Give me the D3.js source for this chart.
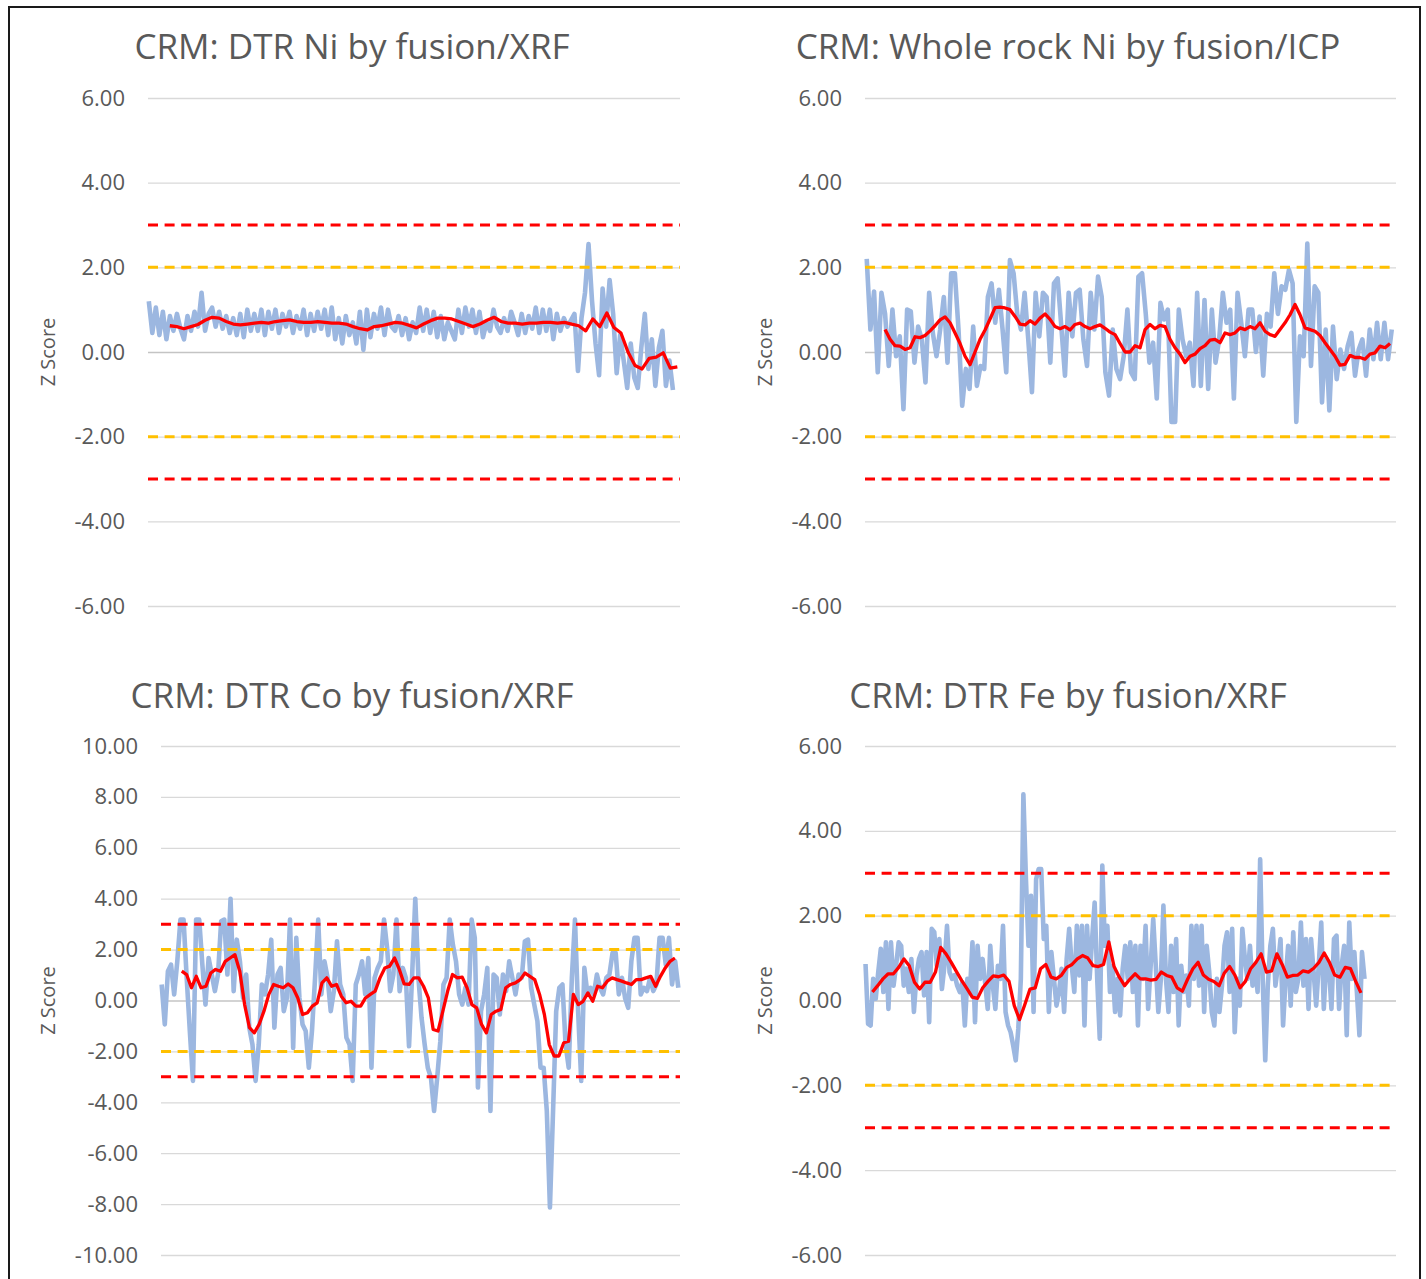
<!DOCTYPE html>
<html>
<head>
<meta charset="utf-8">
<script src="https://cdn.jsdelivr.net/npm/d3@7"></script>
<style>
  body { margin: 0; background: #fff; }
  svg { display: block; }
  text { font-family: "Open Sans", sans-serif; fill: #595959; }
</style>
</head>
<body>
<div id="chart"></div>
<script>
// ---- data ----
const titles = [
    "CRM: DTR Ni by fusion/XRF",
    "CRM: Whole rock Ni by fusion/ICP",
    "CRM: DTR Co by fusion/XRF",
    "CRM: DTR Fe by fusion/XRF"
];
const ticksSix = [-6, -4, -2, 0, 2, 4, 6];
const ticksTen = [-10, -8, -6, -4, -2, 0, 2, 4, 6, 8, 10];
const limitValues = [3, 2, -2, -3];
const limitColors = ["#ff0000", "#ffc000", "#ffc000", "#ff0000"];
const sampleCount = 400;

// DTR Ni by fusion/XRF
const niXrfZ = [
    1.2, 0.45, 1.05, 0.4, 0.95, 0.3, 0.85, 0.5, 0.9, 0.55,
    0.3, 0.85, 0.5, 0.95, 0.6, 1.4, 0.5, 0.9, 1.05, 0.6,
    0.95, 0.55, 0.85, 0.45, 0.8, 0.4, 0.9, 0.35, 1.0, 0.5,
    0.9, 0.5, 1.0, 0.4, 0.95, 0.55, 1.0, 0.45, 0.9, 0.6,
    0.95, 0.45, 0.85, 0.55, 1.0, 0.4, 0.9, 0.5, 0.95, 0.55,
    1.0, 0.4, 1.05, 0.3, 0.8, 0.2, 0.85, 0.4, 0.7, 0.2,
    0.95, 0.05, 1.0, 0.35, 0.9, 0.55, 1.05, 0.4, 1.0, 0.6,
    0.5, 0.85, 0.4, 0.8, 0.3, 0.7, 0.45, 1.05, 0.5, 1.0,
    0.45, 0.95, 0.35, 0.85, 0.3, 0.7, 0.5, 0.3, 1.0, 0.45,
    1.05, 0.6, 1.0, 0.45, 0.95, 0.35, 0.7, 0.5, 1.0, 0.6,
    0.45, 0.8, 0.5, 0.95, 0.7, 0.4, 0.9, 0.45, 0.85, 0.55,
    1.05, 0.45, 1.0, 0.5, 1.0, 0.3, 0.9, 0.5, 0.8, 0.6,
    0.75, 0.9, -0.45, 0.8, 1.4, 2.55, 1.2, 0.2, -0.55, 1.5,
    0.6, 1.7, 0.9, -0.5, 0.4, -0.2, -0.85, 0.2, -0.6, -0.85,
    0.1, 0.9, -0.4, 0.3, -0.8, 0.1, 0.5, -0.8, -0.2, -0.9
];
const niXrfAvg = [
    0.62, 0.6, 0.55, 0.6, 0.65, 0.75, 0.82, 0.8, 0.72, 0.66,
    0.64, 0.66, 0.68, 0.7, 0.68, 0.72, 0.74, 0.76, 0.72, 0.7,
    0.7, 0.72, 0.7, 0.68, 0.68, 0.66, 0.6, 0.55, 0.52, 0.6,
    0.62, 0.66, 0.7, 0.68, 0.63, 0.57, 0.66, 0.74, 0.8, 0.8,
    0.78, 0.72, 0.66, 0.6, 0.66, 0.75, 0.82, 0.72, 0.68, 0.68,
    0.66, 0.68, 0.68, 0.7, 0.7, 0.68, 0.7, 0.66, 0.62, 0.5,
    0.78, 0.6, 0.92, 0.58, 0.45, 0.0, -0.32, -0.4, -0.15, -0.12,
    -0.02, -0.38, -0.35
];
const niXrfZRange = [0.6, 394.7];
const niXrfAvgRange = [16.4, 398];

// Whole rock Ni by fusion/ICP
const niIcpZ = [
    2.2, 0.53, 1.43, -0.48, 1.4, 0.9, -0.33, 1.0, -0.1, 0.37,
    -1.35, 1.0, 0.96, -0.25, 0.6, 0.3, -0.72, 1.4, 0.45, -0.1,
    0.53, 1.3, -0.25, 1.86, 1.86, 0.53, -1.27, -0.4, -0.87, 0.6,
    -0.8, -0.33, -0.4, 1.3, 1.62, 0.69, 1.47, 0.53, -0.48, 2.17,
    1.86, 0.9, 0.53, 1.4, 0.3, -0.95, 1.4, 0.37, 1.4, 1.3,
    -0.25, 1.62, 1.74, 0.6, -0.56, 1.4, 0.37, 1.4, 1.47, 0.3,
    -0.33, 1.4, 0.53, 1.78, 1.3, -0.48, -1.03, 0.53, -0.4, -0.64,
    -0.1,
    1.0, -0.48, -0.64, 1.78, 1.86, 0.9, -0.25, 0.22, -1.1, 1.16,
    0.77, 1.0, -1.65, -1.65, 1.0, 0.3, -0.1, 0.22, -0.8, 1.4,
    -0.8, 1.23, -0.87, 1.0, -0.25, 0.3, 1.4, 0.69, 1.0, -1.1,
    1.4, 0.69, -0.1, 1.0, 1.0, 0.0, 0.84, -0.56, 0.9, 0.6,
    1.86, 0.9, 1.55, 1.47, 1.94, 1.62, -1.65, 0.37, -0.1, 2.56,
    -0.33, 1.55, 1.4, -1.19, 0.53, -1.38, 0.6, -0.64, 0.06, -0.4,
    0.14, 0.45, -0.56, 0.06, 0.3, -0.56, 0.53, -0.17, 0.69, -0.17,
    0.69, -0.17, 0.53
];
const niIcpAvg = [
    0.53, 0.3, 0.15, 0.14, 0.06, 0.1, 0.36, 0.34, 0.39, 0.5,
    0.62, 0.76, 0.83, 0.69, 0.45, 0.2, -0.1, -0.3, 0.0, 0.3,
    0.52, 0.78, 1.05, 1.06, 1.04, 1.0, 0.84, 0.66, 0.64, 0.74,
    0.66, 0.8, 0.9, 0.77, 0.6, 0.55, 0.6, 0.52, 0.65, 0.68,
    0.6, 0.55, 0.6, 0.64, 0.56, 0.47, 0.41, 0.2,
    0.0, 0.0, 0.15, 0.1, 0.53, 0.65, 0.55, 0.63, 0.6, 0.3,
    0.1, -0.05, -0.25, -0.1, -0.05, 0.08, 0.15, 0.28, 0.3, 0.22,
    0.45, 0.41, 0.45, 0.57, 0.53, 0.6, 0.55, 0.69, 0.49, 0.41,
    0.37, 0.53, 0.69, 0.88, 1.12, 0.88, 0.57, 0.53, 0.49, 0.39,
    0.22, 0.06, -0.1, -0.31, -0.29, -0.08, -0.13, -0.13, -0.17, -0.05,
    -0.02, 0.14, 0.1, 0.2
];
const niIcpZRange = [1.3, 396.8];
const niIcpAvgRange = [15.1, 395.5];

// DTR Co by fusion/XRF
const coXrfZ = [
    0.63, -0.94, 1.15, 1.41, 0.24, 1.54, 3.18, 3.18, 0.89, -1.2,
    -3.16, 3.18, 3.18, 1.41, -0.16, 1.67, 1.02, 0.37, 1.02, 3.11,
    3.18, 1.02, 4.0, 0.37, 2.39, 1.54, 0.1, 1.02, -1.07, -1.73,
    -3.16, -1.73, 0.63, 0.24, 1.02, 2.39, -1.07, 1.02, 1.28, -0.42,
    0.1, 3.18, -1.86, 2.46, 0.1, -0.94, -1.2, -2.64, -1.2, 0.89,
    3.18, 0.24, 1.54, 0.89, -0.42, 0.37, 2.33, 0.63, 0.24, -1.46,
    -1.73, -3.16, 0.63, 1.02, 1.54, 0.24, 1.67, -2.64, 0.89, 1.28,
    1.54, 3.18, 2.07, 0.37, 1.02, 3.18, 0.37, 1.28, 0.89, -1.8,
    1.02, 4.0,
    0.89, -0.68, -1.73, -2.64, -3.03, -4.34, -3.03, -1.6, 0.63, 0.89,
    3.18, 2.2, 1.54, 0.24, -0.16, 0.5, -0.16, 3.18, 2.46, -3.42,
    -0.42, 0.24, 1.28, -4.34, 1.02, 0.89, -0.55, 1.02, 0.37, 1.54,
    0.89, 0.24, 1.02, 0.89, 2.33, 2.39, 0.5, -0.16, -0.81, -2.64,
    -2.64, -4.34, -8.13, -4.34, -0.42, 0.5, 0.63, -1.73, -2.64, 0.89,
    3.18, -0.42, -3.16, 1.28, 0.24, 0.5, 0.24, 1.02, 0.5, 0.24,
    0.89, 1.02, 1.87, 1.87, 0.24, 0.89, 0.1, -0.29, 1.54, 2.46,
    2.46, 0.24, 0.5, 0.37, 0.89, 0.37, 0.63, 2.46, 2.46, 1.41,
    2.46, 0.63, 1.54, 0.5
];
const coXrfAvg = [
    1.15, 1.02, 0.5, 0.95, 0.5, 0.56, 1.08, 1.22, 1.15, 1.54,
    1.67, 1.8, 1.15, -0.16, -1.07, -1.27, -0.94, -0.42, 0.24, 0.63,
    0.56, 0.5, 0.65, 0.5, 0.1, -0.55, -0.48, -0.22, -0.09, 0.69,
    0.89, 0.56, 0.63, 0.17, -0.09, -0.03, -0.22, -0.22, 0.1, 0.24,
    0.37, 0.89, 1.28, 1.35, 1.67, 1.22, 0.65,
    0.63, 0.89, 0.89, 0.56, 0.1, -1.14, -1.2, -0.42, 0.37, 1.02,
    0.89, 0.92, 0.5, -0.16, -0.29, -0.94, -1.27, -0.55, -0.42, -0.35,
    0.5, 0.63, 0.69, 0.82, 1.08, 0.95, 0.82, 0.24, -0.55, -1.73,
    -2.18, -2.18, -1.66, -1.6, 0.24, -0.16, -0.03, 0.3, -0.03, 0.56,
    0.5, 0.76, 0.89, 0.82, 0.76, 0.69, 0.63, 0.82, 0.82, 0.89,
    0.95, 0.56, 0.95, 1.28, 1.54, 1.67
];
const coXrfZRange = [0.5, 398.7];
const coXrfAvgRange = [16, 396.1];

// DTR Fe by fusion/XRF
const feXrfZ = [
    0.86, -0.55, -0.59, 0.51, 0.04, 0.67, 1.22, 0.2, 1.37, -0.2,
    1.37, 0.35, 0.82, 1.37, 1.29, 0.35, 0.75, 0.2, 0.98, -0.27,
    0.59, 0.98, 1.14, 0.12, 1.14, -0.51, 1.69, 1.61, 0.82, 1.45,
    0.27, 0.82, 1.76, 0.67, 0.51, 0.6, 0.35, 0.2, 0.43, -0.59, 0.51,
    0.2, 1.37, -0.51, 1.29, 0.51, 0.98, 0.4, -0.2, 1.29, 0.35, -0.2,
    0.82, 0.51, 1.76, -0.27, -0.59, -0.75, -1.06, -1.41, -0.67, 0.51,
    4.86, 2.86, 1.29, 2.47, -0.27, 2.86, 3.1, 3.1, 1.45, 1.76,
    -0.27, 1.14, 0.51, -0.12, 0.2, 0.75, -0.27, 0.98, 1.69, 0.82,
    0.2, 1.76, 0.59, 1.76, -0.59, 1.76, 0.51, 1.45, 2.31, 0.51,
    -0.9, 3.18, 1.29, 1.76, 0.2, 0.82, -0.27, 0.51, -0.35, 0.75,
    1.29, 0.51, 1.37, 0.2, 1.29, -0.59, 1.29, 0.51, 1.76, -0.2,
    0.82, 1.92, 0.82, -0.27, 0.51, 2.24, 0.51, -0.27, 1.29, 0.2,
    1.45, -0.59, 0.82, 0.2, 0.59, -0.12, 1.76, 0.51, 1.76, 0.35,
    1.76, -0.27, 1.29, 0.67, -0.27, -0.59, 0.51, -0.27, 0.35, 1.29,
    1.61, 0.2, 1.69, -0.75, 0.51, -0.12, 1.69, 0.98, 0.51, 1.29,
    0.35, 0.82, 0.2, 3.33, 0.51, -1.41, 0.35, 1.29, 1.69, 0.35,
    0.82, 1.45, -0.59, 0.51, 1.29, -0.12, 1.61, 0.2, 0.51, 1.84,
    0.35, 1.45, -0.2, 1.45, 0.67, -0.12, 0.82, 1.84, -0.2, 0.98,
    0.82, -0.2, 1.45, 1.53, -0.2, 0.82, 1.29, -0.82, 1.84, 0.51,
    1.14, 0.2, -0.82, 1.14, 0.51
];
const feXrfAvg = [
    0.2, 0.35, 0.51, 0.63, 0.63, 0.78, 0.98, 0.82, 0.43, 0.27,
    0.43, 0.43, 0.67, 1.25, 1.1, 0.9, 0.68, 0.47, 0.28, 0.08,
    0.05, 0.3, 0.45, 0.58, 0.56, 0.6, 0.45, -0.12, -0.45, -0.1,
    0.27, 0.3, 0.75, 0.85, 0.55, 0.51, 0.6, 0.78, 0.85, 0.98,
    1.06, 1.0, 0.82, 0.8, 0.85, 1.38, 0.8, 0.55, 0.35, 0.5,
    0.63, 0.51, 0.51, 0.48, 0.5, 0.67, 0.59, 0.55, 0.3, 0.22,
    0.5, 0.75, 0.9, 0.6, 0.5, 0.45, 0.35, 0.65, 0.8, 0.6,
    0.3, 0.45, 0.75, 0.9, 1.1, 0.67, 0.7, 1.1, 0.85, 0.55,
    0.59, 0.6, 0.7, 0.67, 0.76, 0.9, 1.12, 0.9, 0.6, 0.55,
    0.78, 0.75, 0.45, 0.18
];
const feXrfZRange = [0.4, 376.3];
const feXrfAvgRange = [5.6, 373.6];

// ---- layout ----
const W = 1426, H = 1279;
const panels = [
    {title: titles[0], ticks: ticksSix, z: niXrfZ, zRange: niXrfZRange, avg: niXrfAvg, avgRange: niXrfAvgRange,
     left: 148, right: 680, top: 98, bottom: 606, titleX: 352, titleY: 59, labelX: 48},
    {title: titles[1], ticks: ticksSix, z: niIcpZ, zRange: niIcpZRange, avg: niIcpAvg, avgRange: niIcpAvgRange,
     left: 865, right: 1396, top: 98, bottom: 606, titleX: 1068, titleY: 59, labelX: 765},
    {title: titles[2], ticks: ticksTen, z: coXrfZ, zRange: coXrfZRange, avg: coXrfAvg, avgRange: coXrfAvgRange,
     left: 161, right: 680, top: 746, bottom: 1255, titleX: 352, titleY: 708, labelX: 48},
    {title: titles[3], ticks: ticksSix, z: feXrfZ, zRange: feXrfZRange, avg: feXrfAvg, avgRange: feXrfAvgRange,
     left: 865, right: 1396, top: 746, bottom: 1255, titleX: 1068, titleY: 708, labelX: 765}
];

const svg = d3.select("#chart").append("svg")
    .attr("width", W)
    .attr("height", H);

svg.append("rect")
    .attr("width", W).attr("height", H)
    .attr("fill", "#fff");

// outer frame
svg.append("rect")
    .attr("x", 9).attr("y", 7)
    .attr("width", 1411).attr("height", 1300)
    .attr("fill", "none")
    .attr("stroke", "#1a1a1a")
    .attr("stroke-width", 2);

// spread n values evenly over a span of sample numbers
function spread(values, range) {
    const step = (range[1] - range[0]) / (values.length - 1);
    return values.map((v, i) => [range[0] + i * step, v]);
}

panels.forEach(p => {
    const x = d3.scaleLinear().domain([0, sampleCount]).range([p.left, p.right]);
    const y = d3.scaleLinear()
        .domain([p.ticks[0], p.ticks[p.ticks.length - 1]])
        .range([p.bottom, p.top]);

    const g = svg.append("g");

    // title
    g.append("text")
        .attr("x", p.titleX)
        .attr("y", p.titleY)
        .attr("text-anchor", "middle")
        .style("font-size", "35px")
        .text(p.title);

    // y axis with gridlines
    const axis = g.append("g")
        .attr("transform", `translate(${p.left},0)`)
        .call(d3.axisLeft(y)
            .tickValues(p.ticks)
            .tickFormat(d => d.toFixed(2))
            .tickSize(-(p.right - p.left))
            .tickPadding(23));
    axis.select(".domain").remove();
    axis.selectAll(".tick line")
        .attr("stroke", d => d === 0 ? "#c4c4c4" : "#d9d9d9")
        .attr("stroke-width", 1.3);
    axis.selectAll(".tick text")
        .attr("fill", "#595959")
        .style("font-size", "22px")
        .style("font-family", "'Open Sans', sans-serif");

    // axis title
    g.append("text")
        .attr("transform", `translate(${p.labelX},${(p.top + p.bottom) / 2}) rotate(-90)`)
        .attr("text-anchor", "middle")
        .attr("dy", "0.35em")
        .style("font-size", "20px")
        .text("Z Score");

    const line = d3.line()
        .x(d => x(d[0]))
        .y(d => y(d[1]));

    // z scores
    g.append("path")
        .datum(spread(p.z, p.zRange))
        .attr("fill", "none")
        .attr("stroke", "#9cb7e0")
        .attr("stroke-width", 4.6)
        .attr("stroke-linejoin", "round")
        .attr("d", line);

    // warning / action limits
    g.selectAll(".limit")
        .data(limitValues)
        .enter().append("line")
        .attr("class", "limit")
        .attr("x1", p.left)
        .attr("x2", p.right)
        .attr("y1", d => y(d))
        .attr("y2", d => y(d))
        .attr("stroke", (d, i) => limitColors[i])
        .attr("stroke-width", 3)
        .attr("stroke-dasharray", "10,6.6");

    // moving average
    g.append("path")
        .datum(spread(p.avg, p.avgRange))
        .attr("fill", "none")
        .attr("stroke", "#ff0000")
        .attr("stroke-width", 3.3)
        .attr("stroke-linejoin", "round")
        .attr("d", line);
});
</script>
</body>
</html>
